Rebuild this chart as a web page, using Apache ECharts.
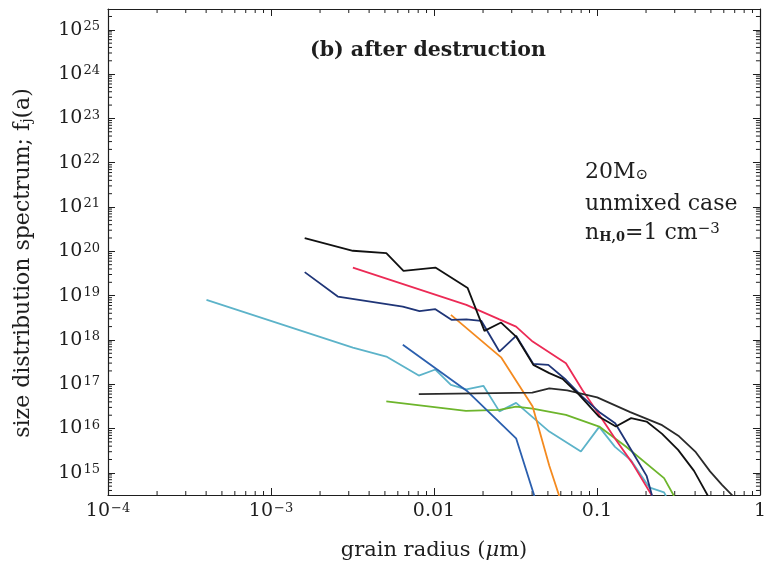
<!DOCTYPE html>
<html>
<head>
<meta charset="utf-8">
<script src="https://cdn.jsdelivr.net/npm/echarts@6/dist/echarts.min.js"></script>
<style>
  html, body { margin: 0; padding: 0; background: #ffffff; }
  #chart { width: 769px; height: 570px; }
</style>
</head>
<body>
<div id="chart"></div>
<script>
// Grain radius a (micron) and size distribution f_j(a) for each grain curve
const radiusBlackA = [1.61e-3, 3.18e-3, 5.10e-3, 6.50e-3, 1.02e-2, 1.61e-2, 2.04e-2, 2.58e-2, 3.19e-2, 4.07e-2, 5.10e-2, 6.15e-2, 7.78e-2, 0.1032, 0.1306, 0.162, 0.2016, 0.251, 0.3146, 0.394, 0.48];
const fBlackA      = [1.99e20, 1.03e20, 9.1e19, 3.63e19, 4.31e19, 1.48e19, 1.60e18, 2.47e18, 1.19e18, 2.74e17, 1.78e17, 1.32e17, 5.76e16, 1.84e16, 1.11e16, 1.72e16, 1.44e16, 7.59e15, 3.30e15, 1.11e15, 3.0e14];

const radiusBlackB = [8.07e-3, 4.01e-2, 5.10e-2, 6.57e-2, 0.1003, 0.160, 0.251, 0.319, 0.404, 0.494, 0.585, 0.683];
const fBlackB      = [5.97e16, 6.50e16, 8.08e16, 7.28e16, 5.06e16, 2.34e16, 1.19e16, 6.67e15, 2.93e15, 1.08e15, 5.36e14, 3.0e14];

const radiusRed = [3.18e-3, 1.58e-2, 2.52e-2, 3.19e-2, 4.03e-2, 6.45e-2, 8.12e-2, 0.1032, 0.1306, 0.1644, 0.218];
const fRed      = [4.31e19, 6.20e18, 2.92e18, 2.00e18, 9.2e17, 2.99e17, 7.48e16, 2.04e16, 5.56e15, 1.68e15, 3.0e14];

const radiusNavy = [1.61e-3, 2.57e-3, 6.44e-3, 8.15e-3, 1.02e-2, 1.28e-2, 1.58e-2, 1.95e-2, 2.52e-2, 3.19e-2, 4.07e-2, 5.03e-2, 6.45e-2, 8.12e-2, 0.1047, 0.1294, 0.1644, 0.2016, 0.218];
const fNavy      = [3.39e19, 9.55e18, 5.67e18, 4.47e18, 4.96e18, 2.84e18, 2.92e18, 2.70e18, 5.47e17, 1.24e18, 2.88e17, 2.74e17, 1.26e17, 5.27e16, 2.26e16, 1.32e16, 3.03e15, 8.55e14, 3.0e14];

const radiusCyan = [4.02e-4, 3.18e-3, 5.10e-3, 8.07e-3, 1.02e-2, 1.27e-2, 1.58e-2, 2.01e-2, 2.52e-2, 3.19e-2, 5.10e-2, 7.97e-2, 0.1032, 0.129, 0.162, 0.209, 0.258, 0.265];
const fCyan      = [8.04e18, 6.73e17, 4.22e17, 1.57e17, 2.15e17, 9.69e16, 7.67e16, 9.2e16, 2.44e16, 3.80e16, 8.55e15, 3.03e15, 1.09e16, 3.86e15, 1.91e15, 4.71e14, 3.63e14, 3.0e14];

const radiusOrange = [1.27e-2, 2.58e-2, 4.03e-2, 5.10e-2, 5.87e-2];
const fOrange      = [3.69e18, 4.05e17, 3.14e16, 1.44e15, 3.0e14];

const radiusBlue = [6.44e-3, 1.61e-2, 3.19e-2, 4.13e-2];
const fBlue      = [7.75e17, 6.84e16, 6.01e15, 3.0e14];

const radiusGreen = [5.10e-3, 1.57e-2, 2.52e-2, 3.19e-2, 4.03e-2, 6.45e-2, 0.1032, 0.1504, 0.258, 0.297];
const fGreen      = [4.11e16, 2.51e16, 2.64e16, 3.14e16, 2.83e16, 2.04e16, 1.11e16, 3.93e15, 7.59e14, 3.0e14];

// Axis ranges and tick labels
const xMin = 1e-4, xMax = 1;
const yMinExp = 14.5, yMaxExp = 25.47;
const yMin = Math.pow(10, yMinExp), yMax = Math.pow(10, yMaxExp);
const xTickExps = [-4, -3, -2, -1, 0];
const xTickTexts = ['{b|10}{s|\u22124}', '{b|10}{s|\u22123}', '{b|0.01}', '{b|0.1}', '{b|1}'];
const yTickExps = [15, 16, 17, 18, 19, 20, 21, 22, 23, 24, 25];

const FONT = 'DejaVu Serif';
const INK = '#1e1e1e';

function zip(xs, ys) { return xs.map((x, i) => [x, ys[i]]); }

const curves = [
  { name: 'cyan',   a: radiusCyan,   f: fCyan,   color: '#5cb3c9' },
  { name: 'green',  a: radiusGreen,  f: fGreen,  color: '#6db52c' },
  { name: 'blue',   a: radiusBlue,   f: fBlue,   color: '#2b5fae' },
  { name: 'orange', a: radiusOrange, f: fOrange, color: '#f48a1f' },
  { name: 'red',    a: radiusRed,    f: fRed,    color: '#ec2a55' },
  { name: 'navy',   a: radiusNavy,   f: fNavy,   color: '#1f3577' },
  { name: 'blackB', a: radiusBlackB, f: fBlackB, color: '#2a2a2a' },
  { name: 'blackA', a: radiusBlackA, f: fBlackA, color: '#111111' }
];

// Log-spaced minor ticks on all four sides of the frame (0=left,1=right,2=bottom,3=top)
const minorTicks = [];
for (let e = -4; e < 0; e++) {
  for (let k = 2; k <= 9; k++) {
    const v = k * Math.pow(10, e);
    minorTicks.push([v, yMin, 2], [v, yMax, 3]);
  }
}
for (let e = 14; e <= 25; e++) {
  for (let k = 2; k <= 9; k++) {
    const v = k * Math.pow(10, e);
    if (v > yMin && v < yMax) minorTicks.push([xMin, v, 0], [xMax, v, 1]);
  }
}

const labelRich = {
  b: { fontFamily: FONT, fontSize: 19, color: INK },
  s: { fontFamily: FONT, fontSize: 13, color: INK, verticalAlign: 'top', padding: [0, 0, 0, 1] }
};

const chart = echarts.init(document.getElementById('chart'), null, { renderer: 'canvas' });

const series = curves.map(c => ({
  name: c.name,
  type: 'line',
  xAxisIndex: 0,
  yAxisIndex: 0,
  data: zip(c.a, c.f),
  showSymbol: false,
  symbol: 'none',
  clip: true,
  lineStyle: { color: c.color, width: 1.8 },
  z: 3
}));

series.push({
  name: 'minor ticks',
  type: 'custom',
  xAxisIndex: 0,
  yAxisIndex: 0,
  data: minorTicks,
  silent: true,
  clip: false,
  z: 2,
  renderItem(params, api) {
    const p = api.coord([api.value(0), api.value(1)]);
    const side = api.value(2);
    const L = 4;
    const dx = side === 0 ? L : side === 1 ? -L : 0;
    const dy = side === 2 ? -L : side === 3 ? L : 0;
    return {
      type: 'line',
      shape: { x1: p[0], y1: p[1], x2: p[0] + dx, y2: p[1] + dy },
      style: { stroke: INK, lineWidth: 1 }
    };
  }
});

const option = {
  animation: false,
  backgroundColor: '#ffffff',
  title: {
    text: '(b) after destruction',
    left: 305,
    top: 35,
    textStyle: { fontFamily: FONT, fontSize: 20.5, fontWeight: 'bold', color: INK }
  },
  grid: { left: 108, right: 8, top: 9, bottom: 75, containLabel: false },
  xAxis: [
    {
      type: 'log', logBase: 10, min: xMin, max: xMax, position: 'bottom',
      name: 'grain radius ({i|\u03bc}m)',
      nameLocation: 'middle', nameGap: 45,
      nameTextStyle: {
        fontFamily: FONT, fontSize: 21, color: INK,
        rich: { i: { fontFamily: FONT, fontSize: 21, fontStyle: 'italic', color: INK } }
      },
      axisLine: { show: true, lineStyle: { color: INK, width: 1.2 } },
      axisTick: { show: true, inside: true, length: 7, lineStyle: { color: INK } },
      splitLine: { show: false },
      axisLabel: {
        margin: 7,
        formatter: v => {
          const i = xTickExps.indexOf(Math.round(Math.log10(v)));
          return i >= 0 ? xTickTexts[i] : '';
        },
        rich: labelRich
      }
    },
    {
      type: 'log', logBase: 10, min: xMin, max: xMax, position: 'top',
      axisLine: { show: true, lineStyle: { color: INK, width: 1.2 } },
      axisTick: { show: true, inside: true, length: 7, lineStyle: { color: INK } },
      axisLabel: { show: false },
      splitLine: { show: false }
    }
  ],
  yAxis: [
    {
      // data axis (logarithmic)
      type: 'log', logBase: 10, min: yMin, max: yMax, position: 'left',
      axisLine: { show: false }, axisTick: { show: false },
      axisLabel: { show: false }, splitLine: { show: false }
    },
    {
      // decade labels, in powers of ten
      type: 'value', min: yMinExp, max: yMaxExp, splitNumber: 11, position: 'left',
      name: 'size distribution spectrum; f{sub|j}(a)',
      nameLocation: 'middle', nameGap: 74, nameRotate: 90,
      nameTextStyle: {
        fontFamily: FONT, fontSize: 22, color: INK, padding: [0, 22, 0, 0],
        rich: { sub: { fontFamily: FONT, fontSize: 14, color: INK, verticalAlign: 'bottom' } }
      },
      axisLine: { show: true, lineStyle: { color: INK, width: 1.2 } },
      axisTick: { show: true, inside: true, length: 7, lineStyle: { color: INK } },
      splitLine: { show: false },
      axisLabel: {
        margin: 8,
        formatter: v => {
          const n = Math.round(v);
          if (Math.abs(v - n) > 1e-6 || yTickExps.indexOf(n) < 0) return '';
          return '{b|10}{s|' + n + '}';
        },
        rich: labelRich
      }
    },
    {
      type: 'value', min: yMinExp, max: yMaxExp, splitNumber: 11, position: 'right',
      axisLine: { show: true, lineStyle: { color: INK, width: 1.2 } },
      axisTick: { show: true, inside: true, length: 7, lineStyle: { color: INK } },
      axisLabel: { show: false },
      splitLine: { show: false }
    }
  ],
  graphic: [
    {
      type: 'text', left: 585, top: 161,
      style: {
        text: '{t|20M}{o|\u2299}',
        rich: {
          t: { fontFamily: FONT, fontSize: 22, fill: INK },
          o: { fontFamily: FONT, fontSize: 15, fill: INK, verticalAlign: 'bottom' }
        }
      }
    },
    {
      type: 'text', left: 585, top: 193,
      style: { text: 'unmixed case', font: '22px "DejaVu Serif"', fill: INK }
    },
    {
      type: 'text', left: 585, top: 222,
      style: {
        text: '{t|n}{d|H,0}{t|=1 cm}{u|\u22123}',
        rich: {
          t: { fontFamily: FONT, fontSize: 22, fill: INK },
          d: { fontFamily: FONT, fontSize: 13, fontWeight: 'bold', fill: INK, verticalAlign: 'bottom' },
          u: { fontFamily: FONT, fontSize: 15, fill: INK, verticalAlign: 'top' }
        }
      }
    }
  ],
  series: series
};

chart.setOption(option);
</script>
</body>
</html>
